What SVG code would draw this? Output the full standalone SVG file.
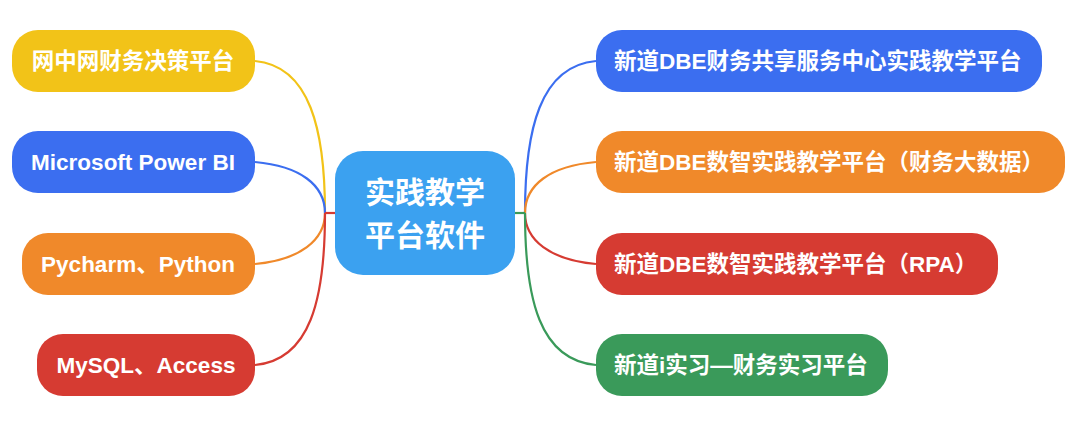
<svg xmlns="http://www.w3.org/2000/svg" width="1075" height="421" viewBox="0 0 1075 421">
<style>
text{font-family:"Liberation Sans","Noto Sans CJK SC",sans-serif;font-weight:bold;fill:#fff;font-size:22.5px;dominant-baseline:central}
.c{fill:none;stroke-width:2.2}
</style>
<rect width="1075" height="421" fill="#fff"/>
<g id="connectors">
<path class="c" stroke="#f2c318" d="M255,61 C310,66 325,130 325,213"/>
<path class="c" stroke="#3b6ef0" d="M255,162 C300,166 325,185 325,213"/>
<path class="c" stroke="#f0892a" d="M255,264 C300,260 325,240 325,213"/>
<path class="c" stroke="#d63b32" d="M255,365 C310,360 325,300 325,213"/>
<path class="c" stroke="#d63b32" d="M325,213 H335"/>
<path class="c" stroke="#3b6ef0" d="M596,61 C540,66 525,130 525,213"/>
<path class="c" stroke="#f0892a" d="M596,162 C550,166 525,185 525,213"/>
<path class="c" stroke="#d63b32" d="M596,264 C550,260 525,240 525,213"/>
<path class="c" stroke="#3a9a5a" d="M596,365 C540,360 525,300 525,213"/>
<path class="c" stroke="#3a9a5a" d="M515,213 H525"/>
</g>
<g id="center"><rect x="335" y="151" width="180" height="124" rx="28" fill="#3ba1f0"/>
<text x="425" y="192" text-anchor="middle" style="font-size:30px">实践教学</text>
<text x="425" y="235" text-anchor="middle" style="font-size:30px">平台软件</text></g>
<g id="l1"><rect x="12" y="30" width="243" height="62" rx="26" fill="#f2c318"/><text x="133" y="61" text-anchor="middle">网中网财务决策平台</text></g>
<g id="l2"><rect x="12" y="131" width="243" height="62" rx="26" fill="#3b6ef0"/><text x="133" y="162" text-anchor="middle">Microsoft Power BI</text></g>
<g id="l3"><rect x="22" y="233" width="233" height="62" rx="26" fill="#f0892a"/><text x="138" y="264" text-anchor="middle">Pycharm、Python</text></g>
<g id="l4"><rect x="37" y="334" width="218" height="62" rx="26" fill="#d63b32"/><text x="146" y="365" text-anchor="middle">MySQL、Access</text></g>
<g id="r1"><rect x="596" y="30" width="446" height="62" rx="26" fill="#3b6ef0"/><text x="614" y="61">新道DBE财务共享服务中心实践教学平台</text></g>
<g id="r2"><rect x="596" y="131" width="469" height="62" rx="26" fill="#f0892a"/><text x="614" y="162">新道DBE数智实践教学平台（财务大数据）</text></g>
<g id="r3"><rect x="596" y="233" width="402" height="62" rx="26" fill="#d63b32"/><text x="614" y="264">新道DBE数智实践教学平台（RPA）</text></g>
<g id="r4"><rect x="596" y="334" width="292" height="62" rx="26" fill="#3a9a5a"/><text x="614" y="365">新道i实习—财务实习平台</text></g>
</svg>
